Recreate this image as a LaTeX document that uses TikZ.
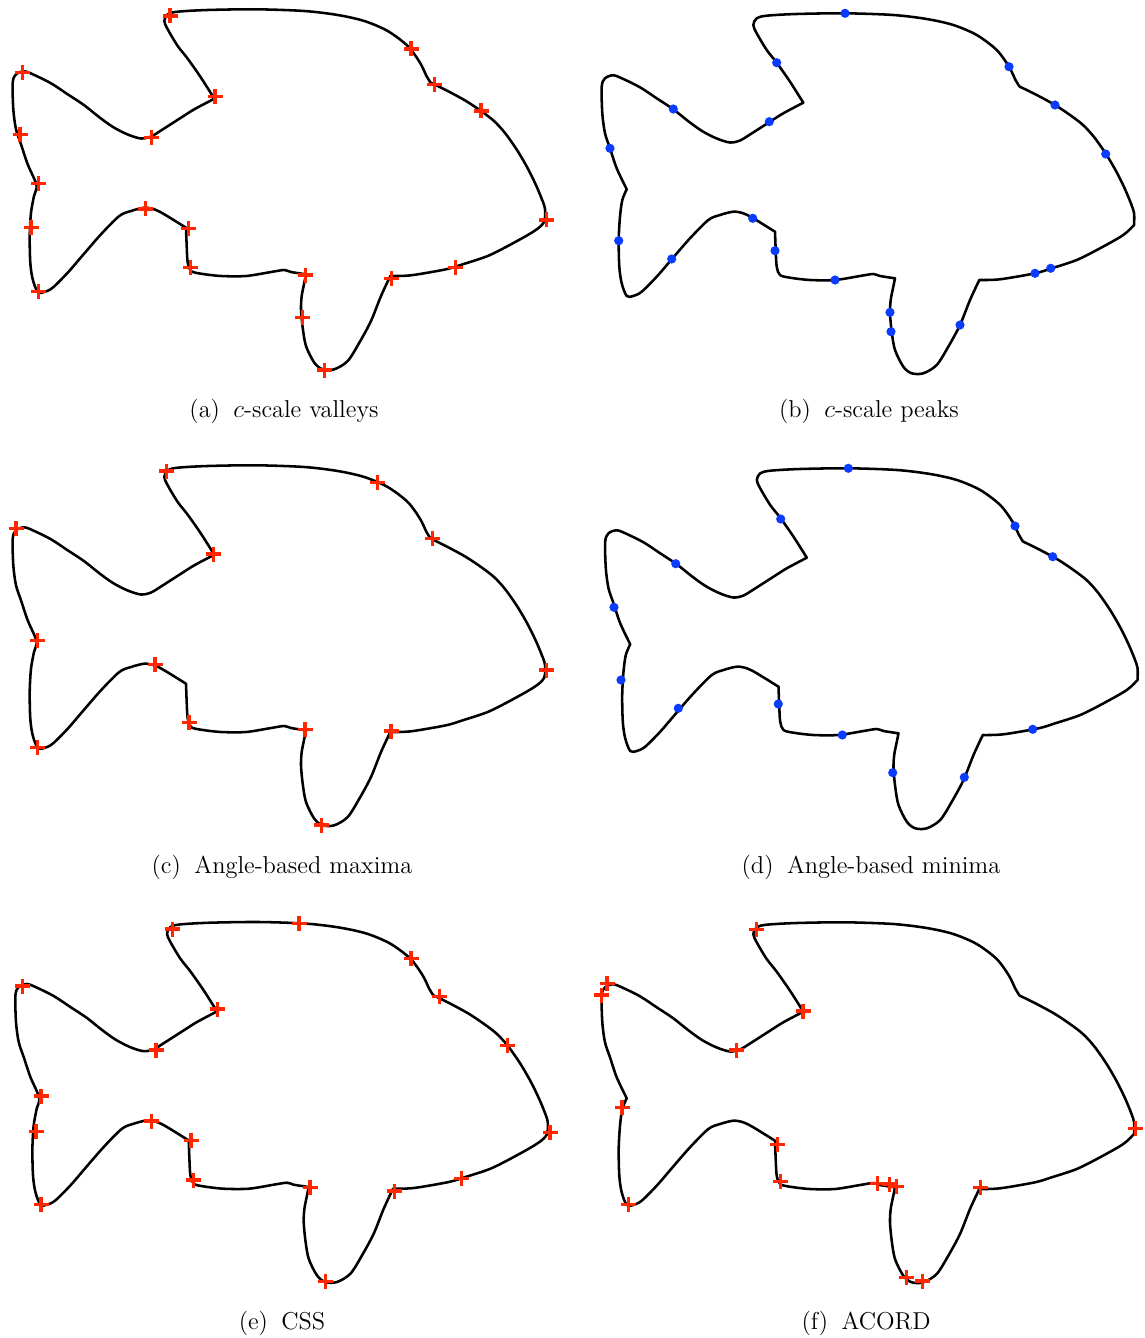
\documentclass[tikz,border=0pt]{standalone}
\definecolor{markred}{RGB}{255,38,0}
\definecolor{markblue}{RGB}{10,60,255}
\tikzset{
  fish/.style={line width=1.45pt, black, line join=round, line cap=round},
  captext/.style={font=\fontsize{13.9}{16}\selectfont, anchor=base, inner sep=0pt},
  plus/.pic={\draw[markred, line width=1.8pt] (-7.5,0) -- (7.5,0) (0,-7.5) -- (0,7.5);},
  dot/.pic={\fill[markblue] (0,0) circle (4.6);}
}
% Fish outline with sharp corners (right column)
\newcommand\fishR{%
\draw[fish]
 plot[smooth] coordinates {(803.3,102.7) (790,81.7) (776.7,62.7) (766.7,50) (756.7,33.3) (753.3,25) (756.7,18.3) (766.7,15.7) (796.7,14) (845,13.3) (893.3,15) (926.7,19) (953.3,25) (976.7,35) (996.7,50) (1009,66.7) (1015.5,80) (1019.5,86.5)}
 -- plot[smooth] coordinates {(1019.5,86.5) (1036.7,95) (1055,105) (1070,115) (1083,125) (1094,137) (1106,154) (1116,171) (1124,187) (1130,201) (1134,213) (1134,225)}
 -- plot[smooth] coordinates {(1134,225) (1123.3,235) (1100,248.3) (1076.7,260) (1051.7,268.3) (1035,273.3) (1000,279.3) (979.3,280)}
 -- plot[smooth] coordinates {(979.3,280) (970,300) (960,325) (948.3,346.7) (936.7,365) (923.3,373.3) (911.7,373.3) (903.3,366.7) (895,350) (891.7,331.7) (890,313.3) (890.7,300) (893.3,286.7) (895,278.3)}
 -- plot[smooth] coordinates {(895,278.3) (880,276) (873.3,274) (860,276) (835,280) (810,280) (790,277.7) (780,275) (776.7,266.7) (775.7,250) (775,231.7)}
 -- plot[smooth] coordinates {(775,231.7) (753.3,218.3) (743.3,213.3) (733.3,211.7) (720,215) (708.3,220) (690,238.3) (671.7,259.3) (656.7,276.7) (641.7,291.7) (633.3,296) (626.7,296) (621.7,283.3) (619.3,266.7) (618.7,240) (620,216.7) (622.3,200) (626.7,189.3)}
 -- plot[smooth] coordinates {(626.7,189.3) (616.7,168.3) (610,148.3) (605,133.3) (602.3,113.3) (601.7,86.7) (605,78.3) (613.3,75.3) (623.3,79) (640,87.3) (656.7,98.3) (673.3,109.3) (688,121) (702,131) (716.7,138.5) (730,142.5) (740,140.5) (750,134.5) (770,121.7) (783.3,113.3) (803.3,102.7)}
 -- cycle;}
% Smoother fish outline (left column)
\newcommand\fishL{%
\draw[fish]
 plot[smooth] coordinates {(803.3,102.7) (790,81.7) (776.7,62.7) (766.7,50) (756.7,33.3) (753.3,25) (756.7,18.3) (766.7,15.7) (796.7,14) (845,13.3) (893.3,15) (926.7,19) (953.3,25) (976.7,35) (996.7,50) (1009,66.7) (1015.5,80) (1019.5,86.5)}
 -- plot[smooth] coordinates {(1019.5,86.5) (1036.7,95) (1055,105) (1070,115) (1083,125) (1094,137) (1106,154) (1116,171) (1124,187) (1130,201) (1134,213) (1133,226) (1123.3,235) (1100,248.3) (1076.7,260) (1051.7,268.3) (1035,273.3) (1000,279.3) (979.3,280)}
 -- plot[smooth] coordinates {(979.3,280) (970,300) (960,325) (948.3,346.7) (936.7,365) (923.3,373.3) (911.7,373.3) (903.3,366.7) (895,350) (891.7,331.7) (890,313.3) (890.7,300) (893.3,286.7) (895,278.3)}
 -- plot[smooth] coordinates {(895,278.3) (880,276) (873.3,274) (860,276) (835,280) (810,280) (790,277.7) (780,275) (776.7,266.7) (775.7,250) (775,231.7)}
 -- plot[smooth] coordinates {(775,231.7) (753.3,218.3) (743.3,213.3) (733.3,211.7) (720,215) (708.3,220) (690,238.3) (671.7,259.3) (656.7,276.7) (641.7,291.7) (633.3,296) (626.7,296) (621.7,283.3) (619.3,266.7) (618.7,240) (620,216.7) (623,200) (625.5,189) (616.7,168.3) (610,148.3) (605,133.3) (602.3,113.3) (601.7,86.7) (605,78.3) (613.3,75.3) (623.3,79) (640,87.3) (656.7,98.3) (673.3,109.3) (688,121) (702,131) (716.7,138.5) (730,142.5) (740,140.5) (750,134.5) (770,121.7) (783.3,113.3) (803.3,102.7)}
 -- cycle;}
\begin{document}
\begin{tikzpicture}[x=0.02cm, y=-0.02cm]
\useasboundingbox (0,0) rectangle (1144,1338);

% outlines
\begin{scope}[shift={(-589,-4)}]\fishL\end{scope}
\fishR
\begin{scope}[shift={(-589,452)}]\fishL\end{scope}
\begin{scope}[shift={(3.5,455)}]\fishR\end{scope}
\begin{scope}[shift={(-586.3,908.7)}]\fishL\end{scope}
\begin{scope}[shift={(0,909)}]\fishR\end{scope}

% (a) c-scale valleys
\foreach \p in {(170,16),(22.7,72.7),(20,134.3),(38.3,183.3),(31,227.3),(38.3,291.7),(215,96.7),(151.7,137.3),(145.7,209),(188.3,228.3),(190.7,267.7),(411,49),(434.3,84.3),(481,111),(546.7,220),(455.7,267.7),(391.7,278.3),(305.7,275),(302.7,317.3),(324.3,370)}
  \pic at \p {plus};

% (b) c-scale peaks
\foreach \p in {(845,13.3),(776.7,62.7),(673.3,109),(769.3,121.7),(610,148.3),(752.7,218.3),(775,250.7),(618.7,240.7),(671.7,259),(835,280),(1009,66.7),(1055,105),(1105.7,154),(1035,273.3),(1050.7,268.3),(890,312.3),(891,331.7),(960,325)}
  \pic at \p {dot};

% (c) angle-based maxima
\foreach \p in {(166.7,471),(16,528.3),(213.3,554),(37.7,640.7),(155,664.3),(189,722.7),(37.7,747.7),(377.7,482.3),(432.7,538.3),(546.7,670),(391,731),(305,729.3),(321.7,825)}
  \pic at \p {plus};

% (d) angle-based minima
\foreach \p in {(848.3,468.3),(780.7,519),(675.7,563.7),(614,607.3),(621,680),(678.3,708.3),(778.3,704),(842.3,735),(1015,526),(1052.7,556.7),(1032.7,729.3),(892.7,772.7),(964.3,777.3)}
  \pic at \p {dot};

% (e) CSS
\foreach \p in {(172.3,929),(22.7,986),(217.3,1009),(156,1050),(41,1096),(36,1131.7),(151.7,1121),(191,1140.7),(193.3,1180),(41,1204.3),(299,923.3),(411,958.3),(439.3,996.7),(507.7,1045.7),(550,1132.7),(461.7,1178.3),(394.3,1191),(310,1187.3),(325.7,1281.7)}
  \pic at \p {plus};

% (f) ACORD
\foreach \p in {(756.3,929.3),(607,983.3),(601.6,995),(803,1011),(736.5,1050),(622,1107.7),(628.6,1204.3),(777.1,1144.3),(780.4,1181.7),(877.8,1183.3),(889.4,1184),(896.5,1186.7),(1135.8,1128.3),(980.4,1187.3),(906.3,1277.3),(922.8,1281)}
  \pic at \p {plus};

% captions
\node[captext] (capa) at (284,417) {(a)\hskip0.55em$c$-scale valleys};
\node[captext] (capb) at (869,417) {(b)\hskip0.55em$c$-scale peaks};
\node[captext] (capc) at (282,873) {(c)\hskip0.55em Angle-based maxima};
\node[captext] (capd) at (871,873) {(d)\hskip0.55em Angle-based minima};
\node[captext] (cape) at (282,1329) {(e)\hskip0.55em CSS};
\node[captext] (capf) at (866,1329) {(f)\hskip0.55em ACORD};
\end{tikzpicture}
\end{document}
